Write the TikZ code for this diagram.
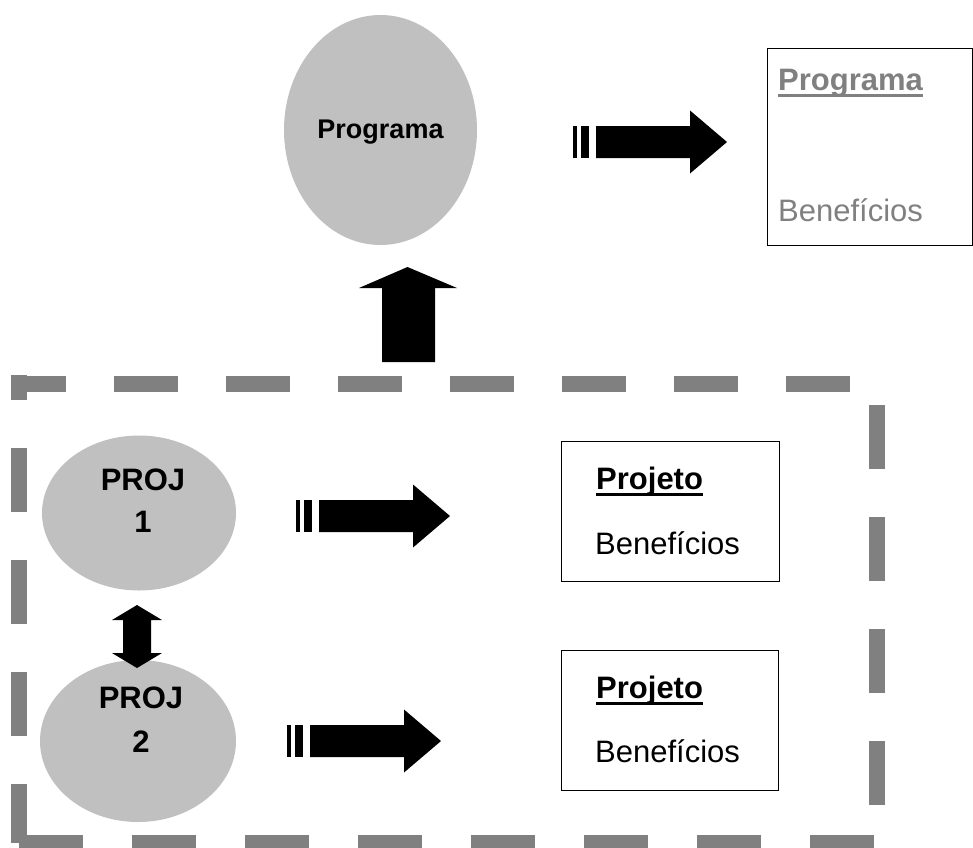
\documentclass[tikz,border=0pt]{standalone}
\usepackage{fontspec}
\setmainfont{Liberation Sans}
\usetikzlibrary{shapes.geometric}

\definecolor{bubble}{HTML}{C0C0C0}
\definecolor{frame}{HTML}{808080}
\definecolor{greytext}{HTML}{808080}

% thick underline as in the headings
\newcommand\ulx[1]{\setbox0\hbox{#1}\rlap{\rule[-6.5pt]{\wd0}{2.6pt}}\box0}

\tikzset{
  bubblenode/.style={ellipse, fill=bubble, draw=none, inner sep=0pt},
  boxnode/.style={draw=black, line width=1.3pt, inner sep=0pt},
  bigtext/.style={font=\fontsize{31}{37}\selectfont},
  bigbold/.style={font=\fontsize{31}{37}\selectfont\bfseries},
  circbold/.style={font=\fontsize{27}{32}\selectfont\bfseries},
  frameline/.style={draw=frame, line width=16pt},
  % block arrow with two stripes at its tail
  stripearrow/.pic={
    \fill[black] (0,-16) rectangle (3.5,16);
    \fill[black] (8,-16) rectangle (16,16);
    \fill[black] (23,-16) -- (117,-16) -- (117,-31.5) -- (154,0)
                 -- (117,31.5) -- (117,16) -- (23,16) -- cycle;
  },
}

\begin{document}
\begin{tikzpicture}[x=1pt, y=-1pt]
\useasboundingbox (0,0) rectangle (973,847);

% ---- programme level ----
\node[bubblenode, minimum width=193pt, minimum height=230pt] (prog) at (380.5,130) {};
\node[circbold, anchor=base] (progt) at (380.5,138) {Programa};

\pic at (573,142) {stripearrow};

\node[boxnode, minimum width=205pt, minimum height=197pt, anchor=north west] (progbox) at (767,48) {};
\node[bigbold, text=greytext, anchor=base west, inner sep=0pt] (progh) at (778,90) {\ulx{Programa}};
\node[bigtext, text=greytext, anchor=base west, inner sep=0pt] (progb) at (778,221) {Benefícios};

% upward block arrow from the project group
\fill[black] (382,362) -- (435,362) -- (435,288) -- (457,288) -- (407.5,267)
             -- (359,288) -- (382,288) -- cycle;

% ---- dashed frame round the projects ----
\draw[frameline, dash pattern=on 64pt off 48pt, dash phase=9pt] (11,383.5) -- (850,383.5);
\draw[frameline, dash pattern=on 64pt off 48pt, dash phase=39pt] (19,375) -- (19,843);
\draw[frameline, dash pattern=on 64pt off 48pt] (877,405) -- (877,805);
\draw[frameline, dash pattern=on 64pt off 49pt] (19,843) -- (874,843);

% ---- project 1 ----
\node[bubblenode, minimum width=194pt, minimum height=155pt] (p1) at (139,513) {};
\node[bigbold, align=center, anchor=base, inner sep=0pt] (p1t) at (143,490) {PROJ};
\node[bigbold, anchor=base, inner sep=0pt] (p1n) at (143,532) {1};

\pic at (296,516) {stripearrow};

\node[boxnode, minimum width=218pt, minimum height=140pt, anchor=north west] (b1) at (561,441) {};
\node[bigbold, anchor=base west, inner sep=0pt] (b1h) at (596,489) {\ulx{Projeto}};
\node[bigtext, anchor=base west, inner sep=0pt] (b1b) at (595,554) {Benefícios};

% ---- project 2 ----
\node[bubblenode, minimum width=196pt, minimum height=162pt] (p2) at (138,741) {};
\node[bigbold, anchor=base, inner sep=0pt] (p2t) at (141,708) {PROJ};
\node[bigbold, anchor=base, inner sep=0pt] (p2n) at (141,752) {2};

\pic at (287,741) {stripearrow};

\node[boxnode, minimum width=217pt, minimum height=140pt, anchor=north west] (b2) at (561,650) {};
\node[bigbold, anchor=base west, inner sep=0pt] (b2h) at (596,698) {\ulx{Projeto}};
\node[bigtext, anchor=base west, inner sep=0pt] (b2b) at (595,762) {Benefícios};

% two-headed block arrow between the projects
\fill[black] (137,605) -- (162,620) -- (151,620) -- (151,653) -- (162,653)
             -- (137,668) -- (112,653) -- (123,653) -- (123,620) -- (112,620) -- cycle;
\end{tikzpicture}
\end{document}
